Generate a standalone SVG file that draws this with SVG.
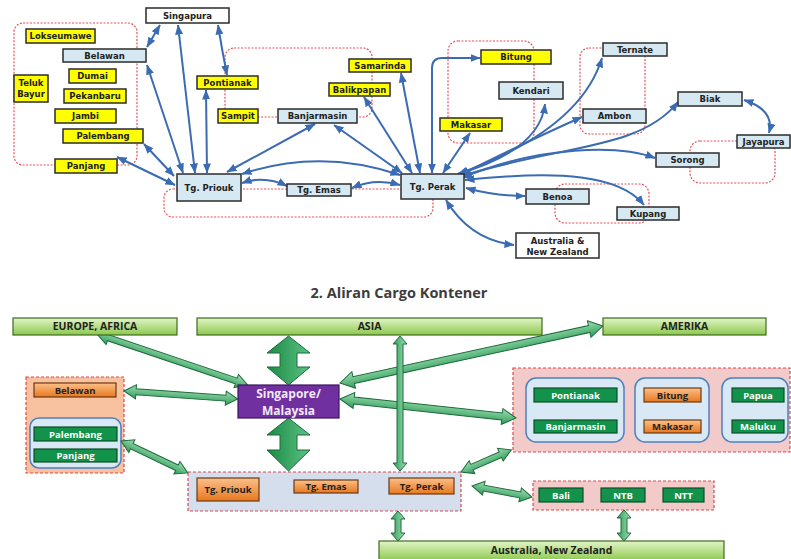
<svg xmlns="http://www.w3.org/2000/svg" width="791" height="559" viewBox="0 0 791 559">
<defs>
<style>
.bx{fill:#d6e9f2;stroke:#2b2b2b;stroke-width:1.5}
.yl{fill:#ffff00;stroke:#2b2b2b;stroke-width:1.5}
.wh{fill:#ffffff;stroke:#2b2b2b;stroke-width:1.5}
.t{font-family:"DejaVu Sans",Verdana,sans-serif;font-weight:bold;font-size:8.5px;fill:#222;text-anchor:middle}
.grp{fill:none;stroke:#e8505a;stroke-width:1.2;stroke-dasharray:2 1.5}
.ar{fill:none;stroke:#3a6bb3;stroke-width:2;marker-start:url(#ah);marker-end:url(#ah)}
.bar{fill:url(#gbar);stroke:#3f6b1f;stroke-width:1.2}
.bt{font-family:"Open Sans","DejaVu Sans",sans-serif;font-weight:bold;font-size:10.5px;fill:#222;text-anchor:middle}
.st{font-family:"Open Sans","DejaVu Sans",sans-serif;font-weight:bold;font-size:9.5px;text-anchor:middle}
.sg{font-family:"Open Sans","DejaVu Sans",sans-serif;font-weight:bold;font-size:12px;fill:#f2eaf8;text-anchor:middle}
.or{fill:url(#gor);stroke:#6b3a12;stroke-width:1.2}
.gr{fill:#12924a;stroke:#0a4f27;stroke-width:1.2}
.rg{stroke:#e04848;stroke-width:1.2;stroke-dasharray:3 2}
.sub{fill:#d9e8f5;stroke:#4f7fbd;stroke-width:1.5}
.ga{fill:url(#gga);stroke:#1d6a3a;stroke-width:1}
.gb{fill:url(#ggb);stroke:#1d6a3a;stroke-width:1}
</style>
<marker id="ah" viewBox="0 0 10 8" refX="9.5" refY="4" markerWidth="10" markerHeight="8" markerUnits="userSpaceOnUse" orient="auto-start-reverse">
<path d="M0,0 L10,4 L0,8 z" fill="#3a6bb3"/>
</marker>
<linearGradient id="gbar" x1="0" y1="0" x2="0" y2="1">
<stop offset="0" stop-color="#e2f5c6"/><stop offset="1" stop-color="#8cc84e"/>
</linearGradient>
<linearGradient id="gor" x1="0" y1="0" x2="0" y2="1">
<stop offset="0" stop-color="#fbc08a"/><stop offset="1" stop-color="#e8781e"/>
</linearGradient>
<linearGradient id="gga" x1="0" y1="0" x2="0" y2="1">
<stop offset="0" stop-color="#9fe0b4"/><stop offset="1" stop-color="#2f9a58"/>
</linearGradient>
<linearGradient id="ggb" x1="0" y1="0" x2="1" y2="0">
<stop offset="0" stop-color="#1b8a45"/><stop offset="1" stop-color="#5cc283"/>
</linearGradient>
</defs>
<rect width="791" height="559" fill="#ffffff"/>

<!-- ===== Top diagram: region groups ===== -->
<g id="groups-top">
<rect class="grp" x="14" y="23" width="123" height="142" rx="9"/>
<rect class="grp" x="225" y="48" width="147" height="69" rx="9"/>
<rect class="grp" x="164" y="189" width="269" height="28" rx="9"/>
<rect class="grp" x="448" y="41" width="86" height="102" rx="10"/>
<rect class="grp" x="580" y="48" width="65" height="86" rx="9"/>
<rect class="grp" x="690" y="141" width="85" height="42" rx="10"/>
<rect class="grp" x="555" y="184" width="94" height="39" rx="10"/>
</g>

<!-- ===== Top diagram: connectors ===== -->
<g id="connectors-top">
<path class="ar" d="M160,25 L147,47"/>
<path class="ar" d="M178,25 L195,173"/>
<path class="ar" d="M218,25 Q222,50 227,75"/>
<path class="ar" d="M147,65 L183,173"/>
<path class="ar" d="M206,90 L207,173"/>
<path class="ar" d="M144,144 L174,176"/>
<path class="ar" d="M117,157 L175,185"/>
<path class="ar" d="M227,172 L315,124"/>
<path class="ar" d="M242,174 Q320,148 400,175"/>
<path class="ar" d="M242,183 Q265,175 287,186"/>
<path class="ar" d="M352,188 Q375,178 400,185"/>
<path class="ar" d="M334,125 L402,173"/>
<path class="ar" d="M364,97 L412,173"/>
<path class="ar" d="M401,73 L420,173"/>
<path class="ar" d="M432,173 L432,68 Q432,58 442,58 L480,58"/>
<path class="ar" d="M470,133 L443,173"/>
<path class="ar" d="M545,104 Q540,150 458,174"/>
<path class="ar" d="M458,174 Q580,130 602,58"/>
<path class="ar" d="M460,175 Q530,140 582,117"/>
<path class="ar" d="M462,176 C560,145 640,150 678,102"/>
<path class="ar" d="M462,178 C540,145 620,145 655,158"/>
<path class="ar" d="M465,180 C560,170 620,175 644,205"/>
<path class="ar" d="M466,188 Q495,196 525,196"/>
<path class="ar" d="M446,200 Q470,240 514,245"/>
<path class="ar" d="M744,100 Q775,110 769,133"/>
</g>

<!-- ===== Top diagram: nodes ===== -->
<g id="n-singapura"><rect class="wh" x="146" y="8" width="83" height="15"/><text class="t" x="187.5" y="18.5">Singapura</text></g>
<g id="n-lokseumawe"><rect class="yl" x="26" y="29" width="69" height="14"/><text class="t" x="60.5" y="39">Lokseumawe</text></g>
<g id="n-belawan"><rect class="bx" x="63" y="49" width="83" height="13"/><text class="t" x="104.5" y="58.5">Belawan</text></g>
<g id="n-dumai"><rect class="yl" x="69" y="69" width="47" height="14"/><text class="t" x="92.5" y="79">Dumai</text></g>
<g id="n-telukbayur"><rect class="yl" x="14" y="75" width="34" height="27"/><text class="t" x="31" y="86">Teluk</text><text class="t" x="31" y="97">Bayur</text></g>
<g id="n-pekanbaru"><rect class="yl" x="64" y="89" width="62" height="14"/><text class="t" x="95" y="99">Pekanbaru</text></g>
<g id="n-jambi"><rect class="yl" x="55" y="109" width="61" height="14"/><text class="t" x="85.5" y="119">Jambi</text></g>
<g id="n-palembang"><rect class="yl" x="63" y="129" width="80" height="14"/><text class="t" x="103" y="139">Palembang</text></g>
<g id="n-panjang"><rect class="yl" x="55" y="159" width="62" height="14"/><text class="t" x="86" y="169">Panjang</text></g>
<g id="n-tgpriouk"><rect class="bx" x="177" y="174" width="64" height="27"/><text class="t" x="209" y="190.5">Tg. Priouk</text></g>
<g id="n-pontianak"><rect class="yl" x="197" y="76" width="61" height="13"/><text class="t" x="227.5" y="85.5">Pontianak</text></g>
<g id="n-sampit"><rect class="yl" x="218" y="109" width="40" height="14"/><text class="t" x="238" y="119">Sampit</text></g>
<g id="n-banjarmasin"><rect class="bx" x="278" y="109" width="79" height="14"/><text class="t" x="317.5" y="119">Banjarmasin</text></g>
<g id="n-balikpapan"><rect class="yl" x="329" y="83" width="61" height="13"/><text class="t" x="359.5" y="92.5">Balikpapan</text></g>
<g id="n-samarinda"><rect class="yl" x="349" y="59" width="62" height="13"/><text class="t" x="380" y="68.5">Samarinda</text></g>
<g id="n-tgemas"><rect class="bx" x="287" y="184" width="64" height="12"/><text class="t" x="319" y="193">Tg. Emas</text></g>
<g id="n-tgperak"><rect class="bx" x="401" y="174" width="63" height="25"/><text class="t" x="432.5" y="189.5">Tg. Perak</text></g>
<g id="n-bitung"><rect class="yl" x="481" y="50" width="70" height="14"/><text class="t" x="516" y="60">Bitung</text></g>
<g id="n-kendari"><rect class="bx" x="499" y="82" width="64" height="17"/><text class="t" x="531" y="93.5">Kendari</text></g>
<g id="n-makasar"><rect class="yl" x="440" y="118" width="62" height="13"/><text class="t" x="471" y="127.5">Makasar</text></g>
<g id="n-ternate"><rect class="bx" x="603" y="43" width="64" height="13"/><text class="t" x="635" y="52.5">Ternate</text></g>
<g id="n-ambon"><rect class="bx" x="583" y="109" width="63" height="14"/><text class="t" x="614.5" y="119">Ambon</text></g>
<g id="n-biak"><rect class="bx" x="678" y="92" width="64" height="14"/><text class="t" x="710" y="102">Biak</text></g>
<g id="n-jayapura"><rect class="bx" x="737" y="135" width="53" height="13"/><text class="t" x="763.5" y="144.5">Jayapura</text></g>
<g id="n-sorong"><rect class="bx" x="656" y="153" width="63" height="14"/><text class="t" x="687.5" y="163">Sorong</text></g>
<g id="n-benoa"><rect class="bx" x="526" y="189" width="63" height="15"/><text class="t" x="557.5" y="199.5">Benoa</text></g>
<g id="n-kupang"><rect class="bx" x="617" y="207" width="62" height="13"/><text class="t" x="648" y="216.5">Kupang</text></g>
<g id="n-australia-top"><rect class="wh" x="516" y="233" width="83" height="25"/><text class="t" x="557.5" y="243.5">Australia &amp;</text><text class="t" x="557.5" y="254.5">New Zealand</text></g>

<!-- ===== Title ===== -->
<text x="399" y="298" font-family="'Open Sans','DejaVu Sans',sans-serif" font-weight="bold" font-size="14.5" fill="#3d3d3d" text-anchor="middle">2. Aliran Cargo Kontener</text>

<!-- ===== Bottom diagram: groups ===== -->
<g id="groups-bottom">
<rect class="rg" x="26" y="377" width="98" height="96" fill="#f8c19f"/>
<rect class="sub" x="30" y="418" width="91" height="50" rx="9"/>
<rect class="rg" x="188" y="472" width="273" height="39" fill="#d5deec"/>
<rect class="rg" x="513" y="368" width="277" height="84" fill="#f3caca"/>
<rect class="sub" x="526" y="378" width="98" height="64" rx="10"/>
<rect class="sub" x="635" y="378" width="74" height="64" rx="10"/>
<rect class="sub" x="722" y="378" width="66" height="64" rx="10"/>
<rect class="rg" x="533" y="481" width="181" height="29" fill="#f3caca"/>
</g>

<!-- ===== Bottom diagram: connectors ===== -->
<g id="connectors-bottom">
<polygon class="gb" points="288.5,336 310,353 297,353 297,367 310,367 288.5,385 267,367 280,367 280,353 267,353"/>
<polygon class="gb" points="288.5,418 310,435 297,435 297,450 310,450 288.5,471 267,450 280,450 280,435 267,435"/>
<polygon class="ga" transform="translate(97,334) rotate(18.66)" points="0,0 12,-7 12,-3 147,-3 147,-7 159,0 147,7 147,3 12,3 12,7"/>
<polygon class="ga" transform="translate(124,391) rotate(4.01)" points="0,0 12,-7 12,-3 102,-3 102,-7 114,0 102,7 102,3 12,3 12,7"/>
<polygon class="ga" transform="translate(340,383) rotate(-12.23)" points="0,0 14,-8.5 14,-3.5 255,-3.5 255,-8.5 269,0 255,8.5 255,3.5 14,3.5 14,8.5"/>
<polygon class="ga" transform="translate(340,399) rotate(6.16)" points="0,0 14,-8 14,-3.5 163,-3.5 163,-8 177,0 163,8 163,3.5 14,3.5 14,8"/>
<polygon class="ga" transform="translate(121,441) rotate(25.53)" points="0,0 12,-7 12,-3 62,-3 62,-7 74,0 62,7 62,3 12,3 12,7"/>
<polygon class="ga" transform="translate(461,472) rotate(-23.75)" points="0,0 12,-7 12,-3 43,-3 43,-7 55,0 43,7 43,3 12,3 12,7"/>
<polygon class="ga" transform="translate(472,486) rotate(10.39)" points="0,0 12,-7 12,-3 49,-3 49,-7 61,0 49,7 49,3 12,3 12,7"/>
<polygon class="ga" transform="translate(400,336) rotate(90)" points="0,0 8,-7 8,-3 127,-3 127,-7 135,0 127,7 127,3 8,3 8,7"/>
<polygon class="ga" transform="translate(398,511) rotate(90)" points="0,0 8,-7 8,-3 22,-3 22,-7 30,0 22,7 22,3 8,3 8,7"/>
<polygon class="ga" transform="translate(624,510) rotate(90)" points="0,0 8,-7 8,-3 23,-3 23,-7 31,0 23,7 23,3 8,3 8,7"/>
</g>

<!-- ===== Bottom diagram: nodes ===== -->
<g id="b-europe"><rect class="bar" x="13" y="318" width="164" height="17"/><text class="bt" x="95" y="330">EUROPE, AFRICA</text></g>
<g id="b-asia"><rect class="bar" x="197" y="318" width="345" height="17"/><text class="bt" x="369.5" y="330">ASIA</text></g>
<g id="b-amerika"><rect class="bar" x="603" y="318" width="163" height="17"/><text class="bt" x="684.5" y="330">AMERIKA</text></g>
<g id="b-singapore"><rect x="238" y="385" width="101" height="33" fill="#7030a0" stroke="#3a1560" stroke-width="1.2"/><text class="sg" x="288.5" y="398">Singapore/</text><text class="sg" x="288.5" y="414.5">Malaysia</text></g>
<g id="b-belawan"><rect class="or" x="34" y="383" width="82" height="14"/><text class="st" x="75" y="393.5" fill="#222">Belawan</text></g>
<g id="b-palembang"><rect class="gr" x="34" y="427" width="83" height="14"/><text class="st" x="75.5" y="437.5" fill="#fff">Palembang</text></g>
<g id="b-panjang"><rect class="gr" x="34" y="449" width="83" height="13"/><text class="st" x="75.5" y="459" fill="#fff">Panjang</text></g>
<g id="b-tgpriouk"><rect class="or" x="197" y="478" width="62" height="23"/><text class="st" x="228" y="493" fill="#222">Tg. Priouk</text></g>
<g id="b-tgemas"><rect class="or" x="294" y="480" width="64" height="13"/><text class="st" x="326" y="490" fill="#222">Tg. Emas</text></g>
<g id="b-tgperak"><rect class="or" x="389" y="478" width="65" height="16"/><text class="st" x="421.5" y="489.5" fill="#222">Tg. Perak</text></g>
<g id="b-pontianak"><rect class="gr" x="534" y="388" width="83" height="14"/><text class="st" x="575.5" y="398.5" fill="#fff">Pontianak</text></g>
<g id="b-banjarmasin"><rect class="gr" x="534" y="420" width="83" height="13"/><text class="st" x="575.5" y="430" fill="#fff">Banjarmasin</text></g>
<g id="b-bitung"><rect class="or" x="644" y="388" width="57" height="14"/><text class="st" x="672.5" y="398.5" fill="#222">Bitung</text></g>
<g id="b-makasar"><rect class="or" x="644" y="420" width="57" height="13"/><text class="st" x="672.5" y="430" fill="#222">Makasar</text></g>
<g id="b-papua"><rect class="gr" x="732" y="388" width="52" height="14"/><text class="st" x="758" y="398.5" fill="#fff">Papua</text></g>
<g id="b-maluku"><rect class="gr" x="732" y="420" width="52" height="13"/><text class="st" x="758" y="430" fill="#fff">Maluku</text></g>
<g id="b-bali"><rect class="gr" x="539" y="488" width="44" height="14"/><text class="st" x="561" y="498.5" fill="#fff">Bali</text></g>
<g id="b-ntb"><rect class="gr" x="601" y="488" width="44" height="14"/><text class="st" x="623" y="498.5" fill="#fff">NTB</text></g>
<g id="b-ntt"><rect class="gr" x="663" y="488" width="41" height="14"/><text class="st" x="683.5" y="498.5" fill="#fff">NTT</text></g>
<g id="b-australia"><rect class="bar" x="379" y="541" width="345" height="20"/><text class="bt" x="551.5" y="554">Australia, New Zealand</text></g>
</svg>
